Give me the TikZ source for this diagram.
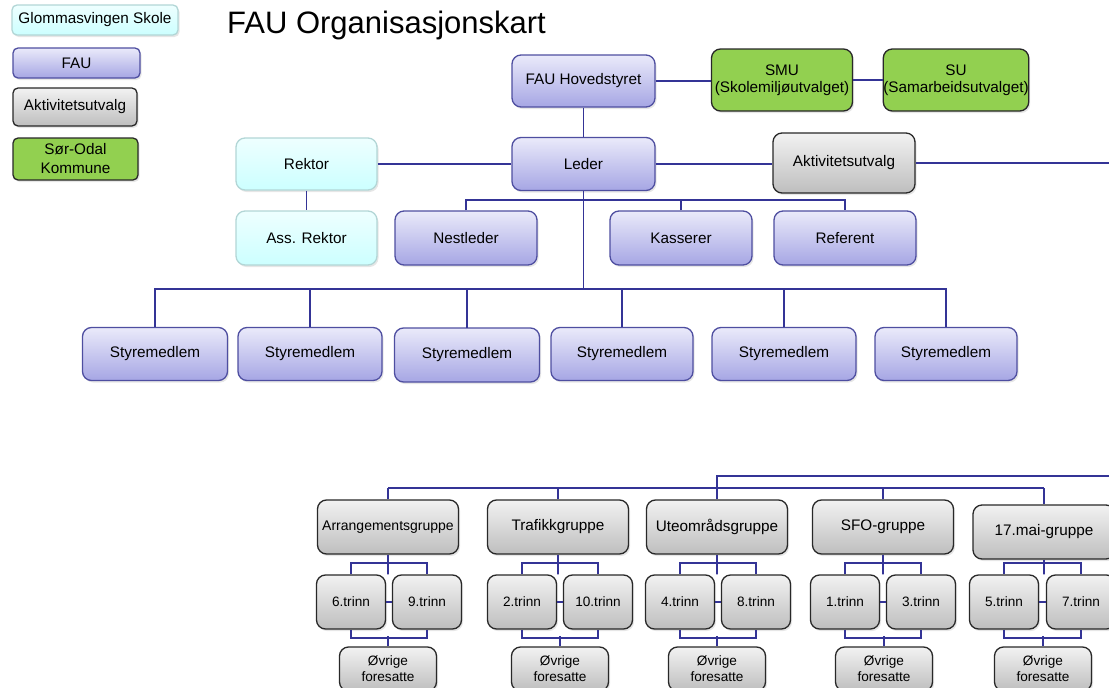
\documentclass[tikz,border=0pt]{standalone}
\usepackage{fontspec}
\setmainfont{Liberation Sans}
\usetikzlibrary{shadows}
\definecolor{linec}{RGB}{52,52,150}
\definecolor{fauTop}{RGB}{234,234,250}
\definecolor{fauBot}{RGB}{166,166,228}
\definecolor{fauDraw}{RGB}{78,78,160}
\definecolor{grTop}{RGB}{242,242,242}
\definecolor{grBot}{RGB}{190,190,190}
\definecolor{grDraw}{RGB}{40,40,40}
\definecolor{cyTop}{RGB}{238,255,255}
\definecolor{cyBot}{RGB}{204,255,255}
\definecolor{cyDraw}{RGB}{178,214,214}
\definecolor{grn}{RGB}{146,208,80}
\tikzset{
  box/.style={rounded corners=9pt, line width=1.3pt, align=center, inner sep=0pt,
    drop shadow={shadow xshift=1.5pt, shadow yshift=-2pt, opacity=0.2}},
  fau/.style={box, draw=fauDraw, top color=fauTop, bottom color=fauBot},
  akt/.style={box, draw=grDraw, top color=grTop, bottom color=grBot},
  sko/.style={box, draw=cyDraw, top color=cyTop, bottom color=cyBot},
  kom/.style={box, draw=grDraw, fill=grn},
  legend/.style={rounded corners=5pt},
  sz/.style 2 args={minimum width=#1pt, minimum height=#2pt},
  conn/.style={draw=linec, line width=1.8pt},
  ft/.style={font=\fontsize{15.3}{17}\selectfont},
  fa/.style={font=\fontsize{14}{16}\selectfont},
  fs/.style={font=\fontsize{13.6}{16}\selectfont},
  titlef/.style={font=\fontsize{31}{37}\selectfont},
}
\begin{document}
\begin{tikzpicture}[x=1pt, y=-1pt]
\useasboundingbox (0,0) rectangle (1109,688);
\clip (0,0) rectangle (1109,688);

% legend
\node[sko, legend, sz={166}{30}, ft] (lgS) at (95,20) {Glommasvingen Skole};
\node[fau, legend, sz={127}{30}, ft] (lgF) at (76.5,63) {FAU};
\node[akt, legend, sz={124}{38}, ft] (lgA) at (75,107) {Aktivitetsutvalg};
\node[kom, legend, sz={125}{42}, ft] (lgK) at (75.5,159) {Sør-Odal\\[2pt]Kommune};

% title
\node[titlef, inner sep=0pt] (title) at (386.5,25) {FAU Organisasjonskart};

% top level
\node[fau, sz={143}{52}, ft] (hov) at (583.5,81) {FAU Hovedstyret};
\node[kom, sz={141}{62}, ft] (smu) at (782,80) {SMU\\(Skolemiljøutvalget)};
\node[kom, sz={140}{62}, ft] (su) at (956,80) {SU\\(Samarbeidsutvalget)};
\node[fau, sz={143}{53}, ft] (led) at (583.5,164) {Leder};
\node[sko, sz={141}{52}, ft] (rek) at (306.5,164) {Rektor};
\node[sko, sz={141}{54}, ft] (ass) at (306.5,238) {Ass. Rektor};
\node[akt, sz={142}{60}, ft] (akt) at (844,163) {Aktivitetsutvalg};
\node[fau, sz={142}{54}, ft] (nes) at (466,238) {Nestleder};
\node[fau, sz={142}{54}, ft] (kas) at (681,238) {Kasserer};
\node[fau, sz={142}{54}, ft] (ref) at (845,238) {Referent};

% board members
\node[fau, sz={145}{53}, ft] (st1) at (155,354) {Styremedlem};
\node[fau, sz={144}{53}, ft] (st2) at (310,354) {Styremedlem};
\node[fau, sz={145}{54}, ft] (st3) at (467,355) {Styremedlem};
\node[fau, sz={142}{53}, ft] (st4) at (622,354) {Styremedlem};
\node[fau, sz={144}{53}, ft] (st5) at (784,354) {Styremedlem};
\node[fau, sz={142}{53}, ft] (st6) at (946,354) {Styremedlem};

% groups
\node[akt, sz={141}{54}, fa] (gA) at (388,527) {Arrangementsgruppe};
\node[akt, sz={141}{54}, ft] (gT) at (558,527) {Trafikkgruppe};
\node[akt, sz={141}{54}, ft] (gU) at (717,527) {Uteområdsgruppe};
\node[akt, sz={141}{54}, ft] (gS) at (883,527) {SFO-gruppe};
\node[akt, sz={142}{54}, ft] (gM) at (1044,532) {17.mai-gruppe};

% grades
\node[akt, sz={69}{54}, fs] (a6) at (351,602) {6.trinn};
\node[akt, sz={69}{54}, fs] (a9) at (427,602) {9.trinn};
\node[akt, sz={69}{54}, fs] (t2) at (522,602) {2.trinn};
\node[akt, sz={69}{54}, fs] (t10) at (598,602) {10.trinn};
\node[akt, sz={69}{54}, fs] (u4) at (680,602) {4.trinn};
\node[akt, sz={69}{54}, fs] (u8) at (756,602) {8.trinn};
\node[akt, sz={69}{54}, fs] (s1) at (845,602) {1.trinn};
\node[akt, sz={69}{54}, fs] (s3) at (921,602) {3.trinn};
\node[akt, sz={69}{54}, fs] (m5) at (1004,602) {5.trinn};
\node[akt, sz={69}{54}, fs] (m7) at (1081,602) {7.trinn};

% other parents
\node[akt, sz={97}{44}, fs] (oA) at (388,669) {Øvrige\\foresatte};
\node[akt, sz={97}{44}, fs] (oT) at (560,669) {Øvrige\\foresatte};
\node[akt, sz={97}{44}, fs] (oU) at (717,669) {Øvrige\\foresatte};
\node[akt, sz={97}{44}, fs] (oS) at (884,669) {Øvrige\\foresatte};
\node[akt, sz={97}{44}, fs] (oM) at (1043,669) {Øvrige\\foresatte};

% free ends at the right edge
\coordinate (aktR) at (1109,164);
\coordinate (lowR) at (1109,476);
\coordinate (busL) at (0,488);

% connectors: top
\draw[conn] (hov.east) -- (hov.east -| smu.west);
\draw[conn] (smu.east) -- (smu.east -| su.west);
\draw[conn] (hov.south) -- (led.north);
\draw[conn] (rek.east) -- (led.west);
\draw[conn] (led.east) -- (led.east -| akt.west);
\draw[conn] (akt.east) -- (akt.east -| aktR);
\draw[conn] (rek.south) -- (ass.north);
\draw[conn] (nes.north) -- +(0,-10) -| (ref.north);
\draw[conn] (kas.north) -- +(0,-10);
\draw[conn] (led.south) -- +(0,98);
\draw[conn] (st1.north) -- +(0,-38) -| (st6.north);
\foreach \s in {st2,st3,st4,st5} \draw[conn] (\s.north) -- (\s.north |- st1.north) -- +(0,-38);

% connectors: groups
\draw[conn] (lowR) -| (gU.north |- busL);
\draw[conn] (gA.north |- busL) -- (gM.north |- busL);
\foreach \g in {gA,gT,gU,gS,gM} \draw[conn] (\g.north) -- (\g.north |- busL);

% connectors: grades
\foreach \g/\l/\r/\o in {gA/a6/a9/oA, gT/t2/t10/oT, gU/u4/u8/oU, gS/s1/s3/oS, gM/m5/m7/oM}{
  \draw[conn] (\g.south) -- (\g.south |- \l.north) -- +(0,-11);
  \draw[conn] (\l.north) -- +(0,-11) -| (\r.north);
  \draw[conn] (\l.east) -- (\r.west);
  \draw[conn] (\l.south) -- +(0,8) -| (\r.south);
  \draw[conn] (\o.north) -- +(0,-10);
}
\end{tikzpicture}
\end{document}
